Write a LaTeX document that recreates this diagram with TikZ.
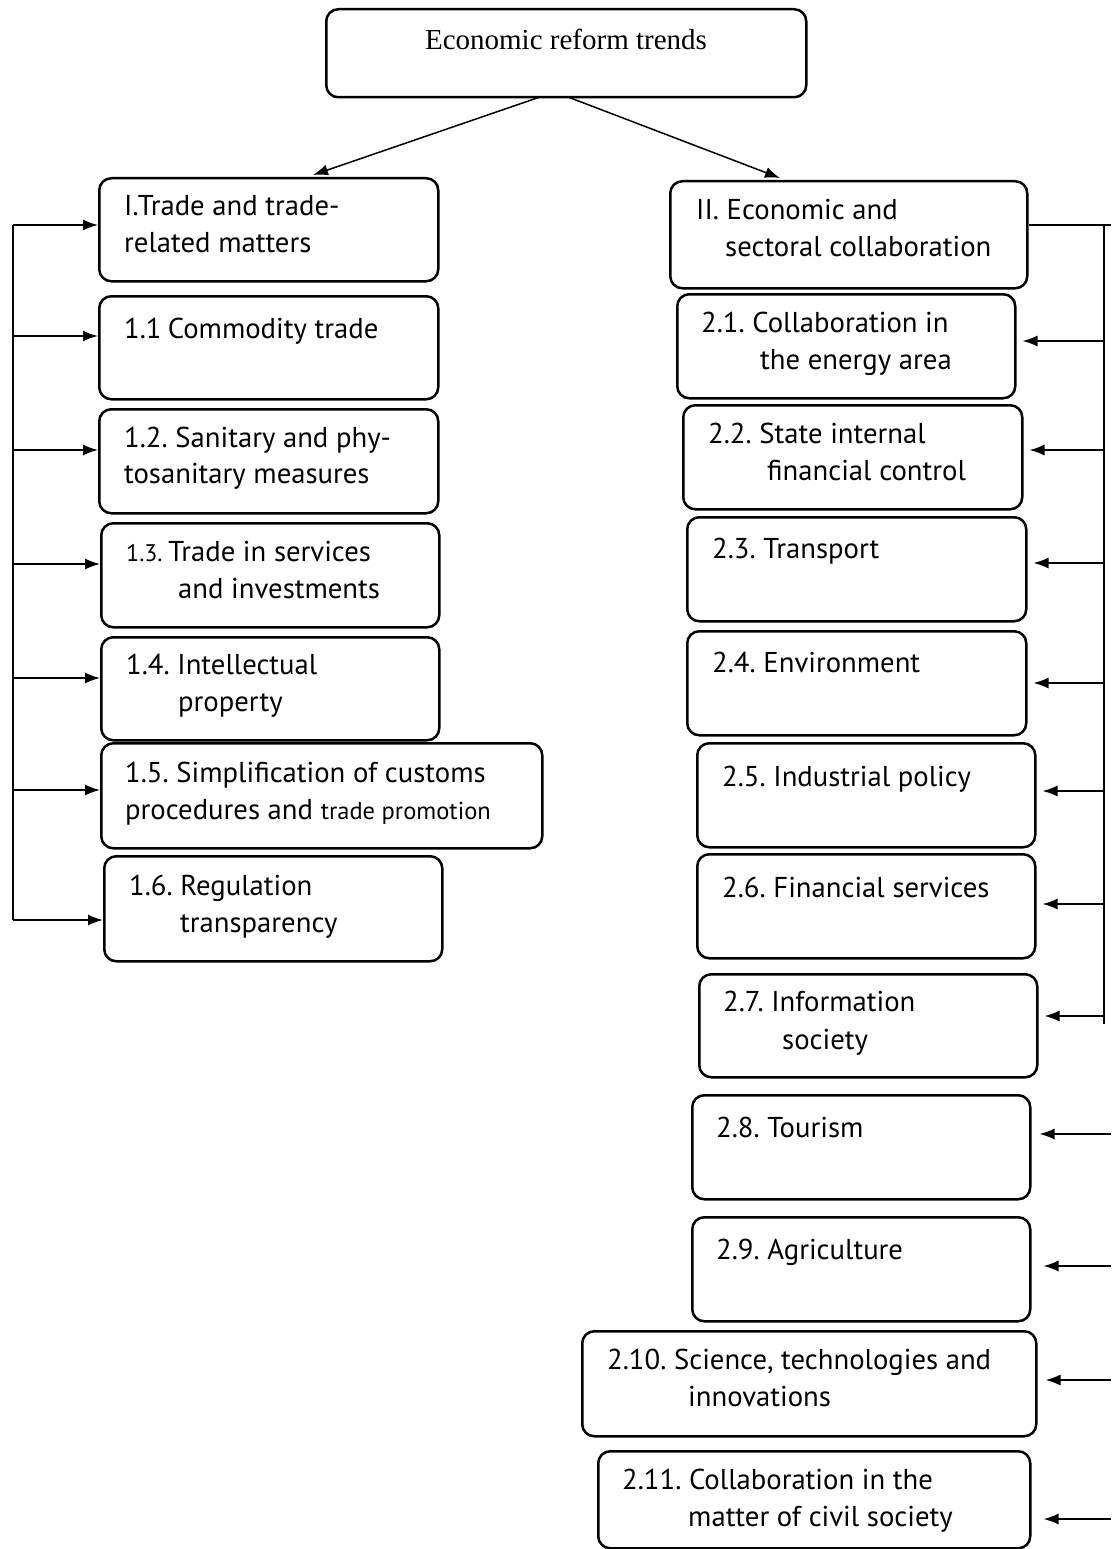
\documentclass[tikz,border=0pt]{standalone}
\usepackage{fontspec}
\setmainfont{PT Sans}
\newfontfamily\seriffont{Liberation Serif}
\usetikzlibrary{arrows.meta,calc}
\tikzset{
  box/.style={draw, line width=2.5pt, rounded corners=12pt, inner sep=0pt, anchor=north west},
  txt/.style={anchor=base west, inner sep=0pt, font=\fontsize{28.7}{33}\selectfont},
  conn/.style={line width=1.5pt},
  arr/.style={line width=1.5pt, -{Latex[length=15pt,width=11pt]}}
}
\begin{document}
\frenchspacing
\begin{tikzpicture}[x=1pt,y=-1pt]
\useasboundingbox[fill=white] (0,0) rectangle (1111,1549);
% top
\node[box, minimum width=480pt, minimum height=88pt] (top) at (325,8) {};
\node[anchor=base, inner sep=0pt, font=\seriffont\fontsize{29}{34}\selectfont] (ttop) at (566,50) {Economic reform trends};
% left boxes
\node[box, minimum width=339pt, minimum height=103pt] (bI) at (98,177) {};
\node[box, minimum width=339pt, minimum height=103pt] (b11) at (98,295) {};
\node[box, minimum width=339pt, minimum height=104pt] (b12) at (98,408) {};
\node[box, minimum width=338pt, minimum height=104pt] (b13) at (100,522) {};
\node[box, minimum width=338pt, minimum height=103pt] (b14) at (100,636) {};
\node[box, minimum width=441pt, minimum height=105pt] (b15) at (100,742) {};
\node[box, minimum width=338pt, minimum height=105pt] (b16) at (103,855) {};
\node[txt] (tI1) at (124,215) {I.Trade and trade-};
\node[txt] (tI2) at (124,252) {related matters};
\node[txt] (t11) at (124,338) {1.1\hspace{0.22em}Commodity trade};
\node[txt] (t12a) at (124,447) {1.2. Sanitary and phy-};
\node[txt] (t12b) at (124,483) {tosanitary measures};
\node[txt] (t13a) at (126,561) {{\fontsize{24}{28}\selectfont 1.3.}\hspace{0.2em}Trade in services};
\node[txt] (t13b) at (178,598) {and investments};
\node[txt] (t14a) at (126,674) {1.4. Intellectual};
\node[txt] (t14b) at (178,711) {property};
\node[txt] (t15a) at (125,782) {1.5. Simplification of customs};
\node[txt] (t15b) at (125,819) {procedures and {\fontsize{24.5}{28}\selectfont trade promotion}};
\node[txt] (t16a) at (129,895) {1.6. Regulation};
\node[txt] (t16b) at (180,932) {transparency};
% right boxes
\node[box, minimum width=357pt, minimum height=107pt] (bII) at (669,180) {};
\node[box, minimum width=338pt, minimum height=104pt] (b21) at (676,293) {};
\node[box, minimum width=339pt, minimum height=104pt] (b22) at (682,404) {};
\node[box, minimum width=339pt, minimum height=104pt] (b23) at (686,516) {};
\node[box, minimum width=339pt, minimum height=104pt] (b24) at (686,630) {};
\node[box, minimum width=338pt, minimum height=104pt] (b25) at (696,742) {};
\node[box, minimum width=338pt, minimum height=104pt] (b26) at (696,853) {};
\node[box, minimum width=338pt, minimum height=103pt] (b27) at (698,973) {};
\node[box, minimum width=338pt, minimum height=104pt] (b28) at (691,1094) {};
\node[box, minimum width=338pt, minimum height=104pt] (b29) at (691,1216) {};
\node[box, minimum width=454pt, minimum height=105pt] (b210) at (581,1330) {};
\node[box, minimum width=432pt, minimum height=97pt] (b211) at (597,1450) {};
\node[txt] (tIIa) at (696,219) {II. Economic and};
\node[txt] (tIIb) at (725,256) {sectoral collaboration};
\node[txt] (t21a) at (701,332) {2.1. Collaboration in};
\node[txt] (t21b) at (760,369) {the energy area};
\node[txt] (t22a) at (708,443) {2.2. State internal};
\node[txt] (t22b) at (767,480) {financial control};
\node[txt] (t23) at (712,558) {2.3. Transport};
\node[txt] (t24) at (712,672) {2.4. Environment};
\node[txt] (t25) at (722,786) {2.5. Industrial policy};
\node[txt] (t26) at (722,897) {2.6. Financial services};
\node[txt] (t27a) at (723,1011) {2.7. Information};
\node[txt] (t27b) at (782,1049) {society};
\node[txt] (t28) at (716,1137) {2.8. Tourism};
\node[txt] (t29) at (716,1259) {2.9. Agriculture};
\node[txt] (t210a) at (607,1369) {2.10. Science, technologies and};
\node[txt] (t210b) at (688,1406) {innovations};
\node[txt] (t211a) at (622,1489) {2.11. Collaboration in the};
\node[txt] (t211b) at (688,1526) {matter of civil society};
% top arrows
\coordinate (s1) at (540,97);
\coordinate (s2) at (568,97);
\coordinate (e1) at (313,175);
\coordinate (e2) at (780,178);
\draw[arr] (s1) -- (e1);
\draw[arr] (s2) -- (e2);
% left bus
\coordinate (L0) at (13,225);
\coordinate (L1) at (13,336);
\coordinate (L2) at (13,450);
\coordinate (L3) at (13,564);
\coordinate (L4) at (13,678);
\coordinate (L5) at (13,790);
\coordinate (L6) at (13,920);
\draw[conn] (L0) -- (L6);
\draw[arr] (L0) -- (L0 -| bI.west);
\draw[arr] (L1) -- (L1 -| b11.west);
\draw[arr] (L2) -- (L2 -| b12.west);
\draw[arr] (L3) -- (L3 -| b13.west);
\draw[arr] (L4) -- (L4 -| b14.west);
\draw[arr] (L5) -- (L5 -| b15.west);
\draw[arr] (L6) -- (L6 -| b16.west);
% right bus
\coordinate (R0) at (1104,225);
\coordinate (Rend) at (1111,225);
\coordinate (R1) at (1104,341);
\coordinate (R2) at (1104,450);
\coordinate (R3) at (1104,563);
\coordinate (R4) at (1104,683);
\coordinate (R5) at (1104,791);
\coordinate (R6) at (1104,904);
\coordinate (R7) at (1104,1016);
\coordinate (R7b) at (1104,1024);
\coordinate (R8) at (1111,1134);
\coordinate (R9) at (1111,1266);
\coordinate (R10) at (1111,1380);
\coordinate (R11) at (1111,1519);
\draw[conn] (bII.east |- R0) -- (Rend);
\draw[conn] (R0) -- (R7b);
\draw[arr] (R1) -- ($(R1 -| b21.east)+(6,0)$);
\draw[arr] (R2) -- ($(R2 -| b22.east)+(6,0)$);
\draw[arr] (R3) -- ($(R3 -| b23.east)+(6,0)$);
\draw[arr] (R4) -- ($(R4 -| b24.east)+(6,0)$);
\draw[arr] (R5) -- ($(R5 -| b25.east)+(6,0)$);
\draw[arr] (R6) -- ($(R6 -| b26.east)+(6,0)$);
\draw[arr] (R7) -- ($(R7 -| b27.east)+(6,0)$);
\draw[arr] (R8) -- ($(R8 -| b28.east)+(8,0)$);
\draw[arr] (R9) -- ($(R9 -| b29.east)+(12,0)$);
\draw[arr] (R10) -- ($(R10 -| b210.east)+(8,0)$);
\draw[arr] (R11) -- ($(R11 -| b211.east)+(12,0)$);
\end{tikzpicture}
\end{document}
